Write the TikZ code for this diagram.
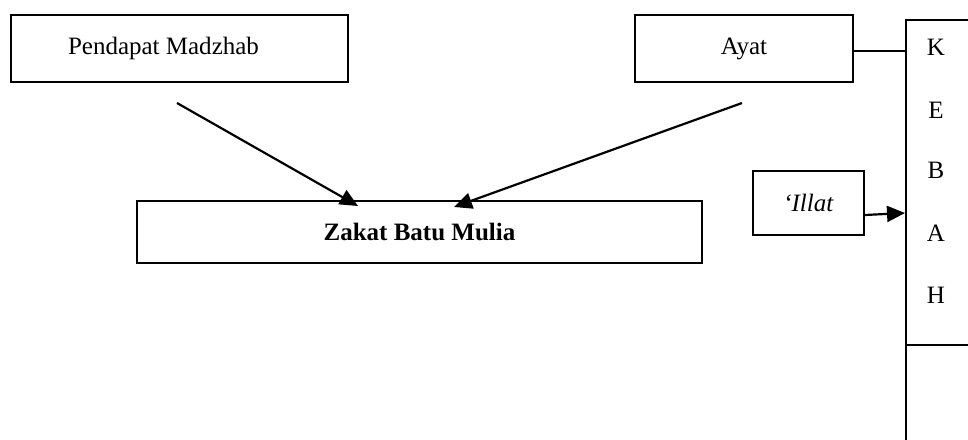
\documentclass[tikz,border=0pt]{standalone}
\usepackage{fontspec}
\setmainfont{Liberation Serif}
\usetikzlibrary{arrows.meta}
\begin{document}
\begin{tikzpicture}[x=1pt,y=-1pt,
  box/.style={draw, line width=2.2pt, rectangle, inner sep=0pt,
    font=\fontsize{25}{30}\selectfont},
  letter/.style={inner sep=0pt, font=\fontsize{25}{30}\selectfont},
  link/.style={line width=2.2pt},
  arr/.style={line width=2.2pt, -{Triangle[length=18pt,width=16pt]}}]
\useasboundingbox (0,0) rectangle (968,439);
\clip (0,0) rectangle (968,439);

% source boxes
\node[box, minimum width=337pt, minimum height=67pt] (pend) at (179.5,48.5) {\hspace*{-32pt}Pendapat Madzhab};
\node[box, minimum width=218pt, minimum height=67pt] (ayat) at (744,48.5) {Ayat};

% central box
\node[box, minimum width=565pt, minimum height=62pt] (zakat) at (419.5,232) {\textbf{Zakat Batu Mulia}};

% cause box
\node[box, minimum width=111pt, minimum height=64pt] (illat) at (808.5,203) {\textit{‘Illat}};

% vertical column, running past the right and bottom edges
\node[box, anchor=north west, minimum width=200pt, minimum height=520pt] (kebah) at (905,19) {};
\draw[link] (kebah.west |- 0,345) -- ++(100,0);

\node[letter] (kk) at (936,47) {K};
\node[letter] (ke) at (936,110) {E};
\node[letter] (kb) at (936,170) {B};
\node[letter] (ka) at (936,233) {A};
\node[letter] (kh) at (936,295) {H};

% connectors
\coordinate (p1) at (177,103);
\coordinate (p2) at (742,103);
\coordinate (t1) at (358,206);
\coordinate (t2) at (454,207);
\draw[arr] (p1) -- (t1);
\draw[arr] (p2) -- (t2);

\draw[link] (ayat.east |- 0,51) -- (kebah.west |- 0,51);
\draw[arr] (illat.east |- 0,215) -- (kebah.west |- 0,213);
\end{tikzpicture}
\end{document}
